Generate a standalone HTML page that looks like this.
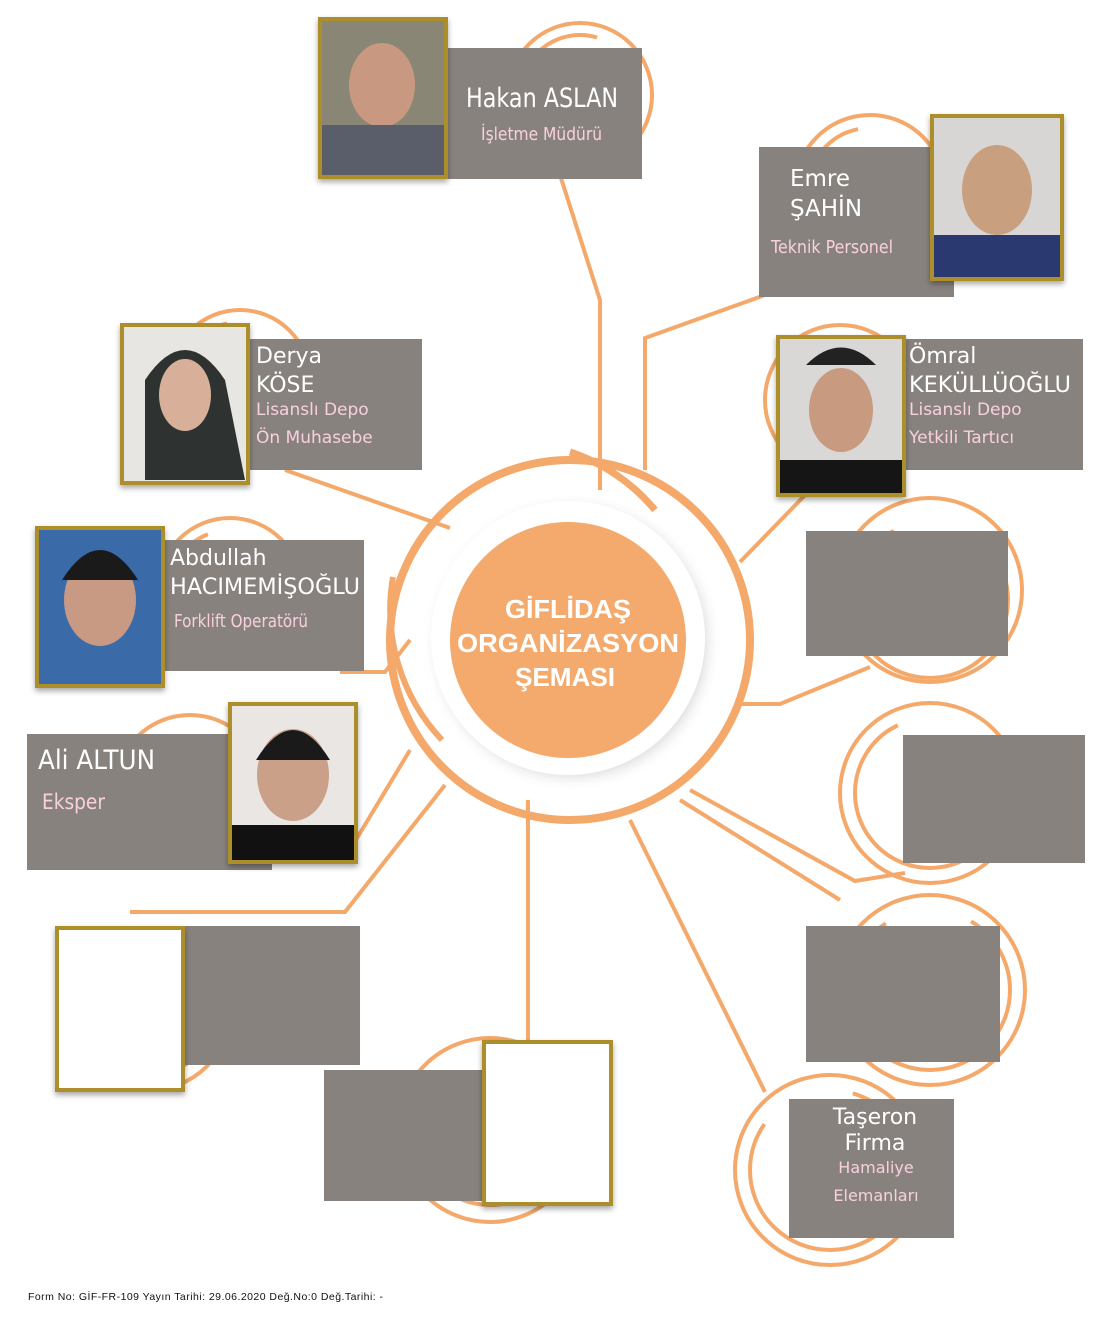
<!DOCTYPE html>
<html><head><meta charset="utf-8"><style>
html,body{margin:0;padding:0;background:#fff}
svg{display:block}
text{font-family:"Liberation Sans","DejaVu Sans",sans-serif}
</style></head><body>
<svg width="1113" height="1323" viewBox="0 0 1113 1323" xmlns="http://www.w3.org/2000/svg">
<defs>
<radialGradient id="sh" cx="50%" cy="50%" r="50%">
<stop offset="0.80" stop-color="#888" stop-opacity="0.6"/>
<stop offset="1" stop-color="#fff" stop-opacity="0"/>
</radialGradient>
<filter id="ds" x="-20%" y="-20%" width="140%" height="140%"><feDropShadow dx="0" dy="3" stdDeviation="3" flood-opacity="0.35"/></filter>
</defs>
<g fill="none" stroke="#f4a86a" stroke-width="4">
<circle cx="580" cy="95" r="72"/><circle cx="580" cy="95" r="60" stroke-dasharray="300 80"/>
<circle cx="870" cy="190" r="75"/><circle cx="870" cy="190" r="62" stroke-dasharray="280 100"/>
<circle cx="240" cy="380" r="70"/><circle cx="240" cy="380" r="58" stroke-dasharray="260 100"/>
<circle cx="840" cy="400" r="75"/><circle cx="840" cy="400" r="62" stroke-dasharray="280 100"/>
<circle cx="230" cy="590" r="72"/><circle cx="230" cy="590" r="60" stroke-dasharray="260 100"/>
<circle cx="930" cy="590" r="92"/><circle cx="930" cy="600" r="78" stroke-dasharray="330 90"/>
<circle cx="930" cy="793" r="90"/><circle cx="930" cy="793" r="75" stroke-dasharray="320 100"/>
<circle cx="190" cy="790" r="75"/><circle cx="190" cy="790" r="62" stroke-dasharray="260 100"/>
<circle cx="930" cy="990" r="95"/><circle cx="930" cy="990" r="80" stroke-dasharray="330 90"/>
<circle cx="150" cy="1010" r="80"/><circle cx="150" cy="1010" r="65" stroke-dasharray="260 100"/>
<circle cx="490" cy="1130" r="92"/><circle cx="490" cy="1130" r="75" stroke-dasharray="280 100"/>
<circle cx="830" cy="1170" r="95"/><circle cx="830" cy="1170" r="80" stroke-dasharray="300 100"/>
<polyline points="560,175 600,300 600,490"/>
<polyline points="765,295 645,338 645,470"/>
<line x1="285" y1="470" x2="450" y2="528"/>
<line x1="810" y1="490" x2="740" y2="562"/>
<polyline points="340,672 385,672 410,640"/>
<polyline points="742,704 780,704 870,667"/>
<polyline points="130,912 345,912 445,785"/>
<line x1="410" y1="750" x2="345" y2="858"/>
<line x1="528" y1="800" x2="528" y2="1045"/>
<line x1="630" y1="820" x2="765" y2="1092"/>
<polyline points="690,790 855,881 905,873"/>
<polyline points="680,800 840,900"/>
</g>
<circle cx="570" cy="640" r="180" fill="none" stroke="#f4a86a" stroke-width="8"/>
<path d="M570,452 A188,188 0 0 1 655,510" fill="none" stroke="#f4a86a" stroke-width="7"/>
<path d="M393,577 A190,190 0 0 0 442,740" fill="none" stroke="#f4a86a" stroke-width="6"/>
<circle cx="572" cy="642" r="150" fill="url(#sh)"/>
<circle cx="568" cy="638" r="137" fill="#fff"/>
<circle cx="568" cy="640" r="118" fill="#f4aa6c"/>
<g fill="#fff" font-weight="bold" font-size="26" text-anchor="middle" style="font-family:'DejaVu Sans',sans-serif">
<text x="568" y="618" textLength="126" lengthAdjust="spacingAndGlyphs">GİFLİDAŞ</text>
<text x="568" y="652" textLength="222" lengthAdjust="spacingAndGlyphs">ORGANİZASYON</text>
<text x="565" y="686" textLength="100" lengthAdjust="spacingAndGlyphs">ŞEMASI</text>
</g>
<g fill="#88827e">
<rect x="445" y="48" width="197" height="131"/>
<rect x="759" y="147" width="195" height="150"/>
<rect x="248" y="339" width="174" height="131"/>
<rect x="905" y="339" width="178" height="131"/>
<rect x="163" y="540" width="201" height="131"/>
<rect x="806" y="531" width="202" height="125"/>
<rect x="27" y="734" width="245" height="136"/>
<rect x="903" y="735" width="182" height="128"/>
<rect x="182" y="926" width="178" height="139"/>
<rect x="806" y="926" width="194" height="136"/>
<rect x="324" y="1070" width="162" height="131"/>
<rect x="789" y="1099" width="165" height="139"/>
</g>
<g stroke="#ac8f2a" stroke-width="4" filter="url(#ds)">
<rect x="320" y="19" width="126" height="158" fill="#8a8674"/>
<rect x="932" y="116" width="130" height="163" fill="#d8d6d4"/>
<rect x="122" y="325" width="126" height="158" fill="#e8e6e2"/>
<rect x="778" y="337" width="126" height="158" fill="#d9d8d6"/>
<rect x="37" y="528" width="126" height="158" fill="#3b5d9a"/>
<rect x="230" y="704" width="126" height="158" fill="#e9e6e3"/>
<rect x="57" y="928" width="126" height="162" fill="#fff"/>
<rect x="484" y="1042" width="127" height="162" fill="#fff"/>
</g>
<g>
<ellipse cx="382" cy="85" rx="33" ry="42" fill="#c89880"/><rect x="322" y="125" width="122" height="50" fill="#5a5e6a"/>
<ellipse cx="997" cy="190" rx="35" ry="45" fill="#c8a080"/><rect x="934" y="235" width="126" height="42" fill="#2a3a70"/>
<path d="M145,480 L145,380 Q185,320 225,380 L245,480Z" fill="#2e3230"/><ellipse cx="185" cy="395" rx="26" ry="36" fill="#d8b09a"/>
<ellipse cx="841" cy="410" rx="32" ry="42" fill="#c89a80"/><path d="M806,365 Q841,330 876,365Z" fill="#222"/><rect x="780" y="460" width="122" height="33" fill="#151515"/>
<rect x="39" y="530" width="122" height="154" fill="#3a6aa8"/><ellipse cx="100" cy="600" rx="36" ry="46" fill="#c89a84"/><path d="M62,580 Q100,520 138,580Z" fill="#1a1a1a"/>
<ellipse cx="293" cy="775" rx="36" ry="46" fill="#caa088"/><path d="M256,760 Q293,700 330,760Z" fill="#1a1a1a"/><rect x="232" y="825" width="122" height="35" fill="#111"/>
</g>
<g fill="#fff">
<text x="466" y="107" font-size="27" textLength="152" lengthAdjust="spacingAndGlyphs" style="font-family:'Liberation Sans Narrow','DejaVu Sans',sans-serif">Hakan ASLAN</text>
<text x="790" y="186" font-size="23" style="font-family:'DejaVu Sans',sans-serif">Emre</text>
<text x="790" y="216" font-size="23" style="font-family:'DejaVu Sans',sans-serif">ŞAHİN</text>
<text x="256" y="363" font-size="22" style="font-family:'DejaVu Sans',sans-serif">Derya</text>
<text x="256" y="392" font-size="22" style="font-family:'DejaVu Sans',sans-serif">KÖSE</text>
<text x="909" y="363" font-size="22" style="font-family:'DejaVu Sans',sans-serif">Ömral</text>
<text x="909" y="392" font-size="22" textLength="162" lengthAdjust="spacingAndGlyphs" style="font-family:'DejaVu Sans',sans-serif">KEKÜLLÜOĞLU</text>
<text x="170" y="565" font-size="22" style="font-family:'DejaVu Sans',sans-serif">Abdullah</text>
<text x="170" y="594" font-size="22" textLength="190" lengthAdjust="spacingAndGlyphs" style="font-family:'DejaVu Sans',sans-serif">HACIMEMİŞOĞLU</text>
<text x="38" y="769" font-size="27" textLength="117" lengthAdjust="spacingAndGlyphs" style="font-family:'Liberation Sans Narrow','DejaVu Sans',sans-serif">Ali ALTUN</text>
<text x="875" y="1124" font-size="22" text-anchor="middle" style="font-family:'DejaVu Sans',sans-serif">Taşeron</text>
<text x="875" y="1150" font-size="22" text-anchor="middle" style="font-family:'DejaVu Sans',sans-serif">Firma</text>
</g>
<g fill="#f8d0de">
<text x="481" y="140" font-size="18" textLength="121" lengthAdjust="spacingAndGlyphs" style="font-family:'Liberation Sans Narrow','DejaVu Sans',sans-serif">İşletme Müdürü</text>
<text x="771" y="253" font-size="18" textLength="122" lengthAdjust="spacingAndGlyphs" style="font-family:'Liberation Sans Narrow','DejaVu Sans',sans-serif">Teknik Personel</text>
<text x="256" y="415" font-size="17" style="font-family:'DejaVu Sans',sans-serif">Lisanslı Depo</text>
<text x="256" y="443" font-size="17" style="font-family:'DejaVu Sans',sans-serif">Ön Muhasebe</text>
<text x="909" y="415" font-size="17" style="font-family:'DejaVu Sans',sans-serif">Lisanslı Depo</text>
<text x="909" y="443" font-size="17" style="font-family:'DejaVu Sans',sans-serif">Yetkili Tartıcı</text>
<text x="174" y="627" font-size="18" textLength="134" lengthAdjust="spacingAndGlyphs" style="font-family:'Liberation Sans Narrow','DejaVu Sans',sans-serif">Forklift Operatörü</text>
<text x="42" y="809" font-size="21" textLength="63" lengthAdjust="spacingAndGlyphs" style="font-family:'Liberation Sans Narrow','DejaVu Sans',sans-serif">Eksper</text>
<text x="876" y="1173" font-size="16" text-anchor="middle" style="font-family:'DejaVu Sans',sans-serif">Hamaliye</text>
<text x="876" y="1201" font-size="16" text-anchor="middle" style="font-family:'DejaVu Sans',sans-serif">Elemanları</text>
</g>
<text x="28" y="1300" font-size="10.5" fill="#111" textLength="355" style="font-family:'Liberation Sans Narrow','Liberation Sans',sans-serif">Form No: GİF-FR-109 Yayın Tarihi: 29.06.2020 Değ.No:0 Değ.Tarihi: -</text>
</svg>
</body></html>
